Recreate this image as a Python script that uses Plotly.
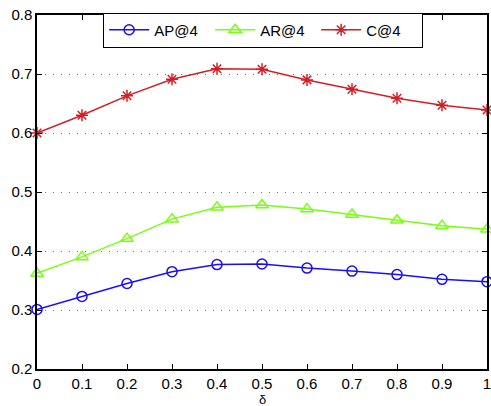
import plotly.graph_objects as go

delta = [0, 0.1, 0.2, 0.3, 0.4, 0.5, 0.6, 0.7, 0.8, 0.9, 1.0]
ap4 = [0.301, 0.323, 0.345, 0.365, 0.377, 0.378, 0.371, 0.366, 0.360, 0.352, 0.348]
ar4 = [0.362, 0.390, 0.421, 0.454, 0.474, 0.478, 0.471, 0.462, 0.452, 0.443, 0.437]
c4 = [0.600, 0.630, 0.663, 0.691, 0.709, 0.708, 0.690, 0.674, 0.659, 0.647, 0.639]
x_ticks = [0, 0.1, 0.2, 0.3, 0.4, 0.5, 0.6, 0.7, 0.8, 0.9, 1]
x_tick_labels = ["0", "0.1", "0.2", "0.3", "0.4", "0.5", "0.6", "0.7", "0.8", "0.9", "1"]
y_ticks = [0.2, 0.3, 0.4, 0.5, 0.6, 0.7, 0.8]
y_tick_labels = ["0.2", "0.3", "0.4", "0.5", "0.6", "0.7", "0.8"]

FONT = "Liberation Sans, Arial, sans-serif"

fig = go.Figure()
fig.add_trace(go.Scatter(x=delta, y=ap4, name="AP@4", mode="lines+markers", cliponaxis=False,
                         line=dict(color="#1a0dff", width=1.5),
                         marker=dict(symbol="circle-open", size=10, color="#1a0dff",
                                     line=dict(width=1.5))))
fig.add_trace(go.Scatter(x=delta, y=ar4, name="AR@4", mode="lines+markers", cliponaxis=False,
                         line=dict(color="#77ff11", width=1.5),
                         marker=dict(symbol="triangle-up-open", size=11, color="#77ff11",
                                     line=dict(width=1.5))))
fig.add_trace(go.Scatter(x=delta, y=c4, name="C@4", mode="lines+markers", cliponaxis=False,
                         line=dict(color="#d41e26", width=1.5),
                         marker=dict(symbol="asterisk-open", size=10, color="#d41e26",
                                     line=dict(width=1.5, color="#d41e26"))))

fig.update_layout(
    width=491, height=406,
    margin=dict(l=37, r=4, t=15, b=37, autoexpand=False),
    paper_bgcolor="white", plot_bgcolor="white",
    font=dict(family=FONT, size=15, color="black"),
    showlegend=True,
    legend=dict(orientation="h", x=0.147, y=1.007, xanchor="left", yanchor="top",
                bgcolor="white", bordercolor="black", borderwidth=1,
                font=dict(size=15), entrywidth=51, itemwidth=40),
    annotations=[dict(text="δ", x=0.5, y=-0.061, xref="paper", yref="paper",
                      xanchor="center", yanchor="top", showarrow=False,
                      font=dict(size=13), borderpad=0)],
)
fig.update_xaxes(range=[0, 1], tickvals=x_ticks, ticktext=x_tick_labels, automargin=False,
                 showline=True, linecolor="black", linewidth=1.5, mirror="ticks",
                 ticks="inside", ticklen=5, tickcolor="black", showgrid=False,
                 zeroline=False, ticklabeloverflow="allow")
fig.update_yaxes(range=[0.2, 0.8], tickvals=y_ticks, ticktext=y_tick_labels, automargin=False,
                 showline=True, linecolor="black", linewidth=1.5, mirror="ticks",
                 ticks="inside", ticklen=5, tickcolor="black", showgrid=True,
                 gridcolor="#777777", griddash="1px,7px", gridwidth=1.2, zeroline=False,
                 ticklabeloverflow="allow")

fig.write_html("out.html", config={"displayModeBar": False},
               post_script="document.body.style.margin='0';")
